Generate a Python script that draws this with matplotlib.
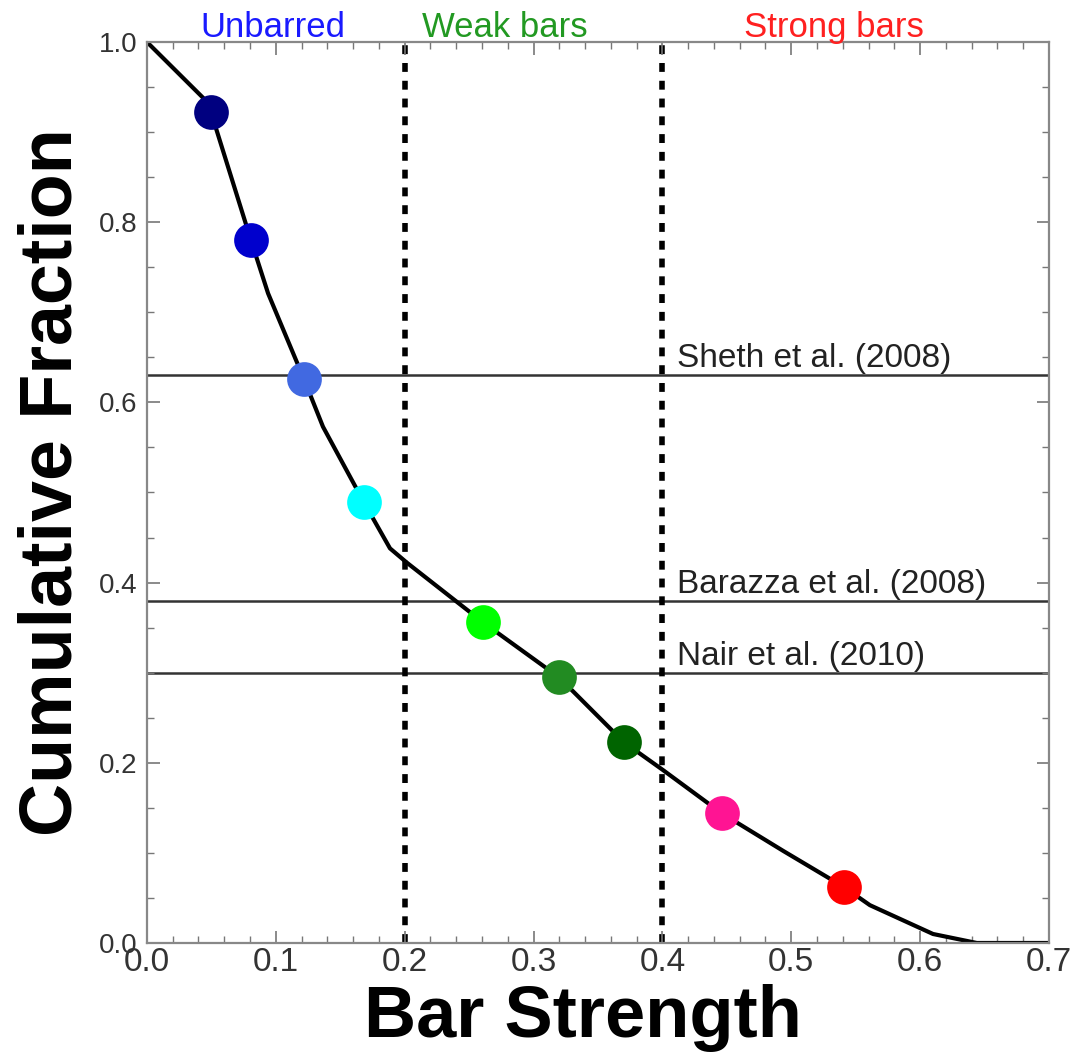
import numpy as np
import matplotlib
matplotlib.use("Agg")
import matplotlib.pyplot as plt

# cumulative fraction curve (vertices)
curve_x = [0.0, 0.045, 0.0497, 0.0807, 0.094, 0.1218, 0.1366, 0.1684, 0.1886, 0.2018,
           0.2607, 0.3197, 0.370, 0.4004, 0.446, 0.494, 0.541, 0.561, 0.610, 0.644, 0.70]
curve_y = [1.0, 0.936, 0.922, 0.780, 0.721, 0.626, 0.573, 0.489, 0.438, 0.422,
           0.356, 0.295, 0.223, 0.192, 0.144, 0.102, 0.062, 0.042, 0.010, 0.0, 0.0]

# highlighted points
pt_x = [0.0497, 0.0807, 0.1218, 0.1684, 0.2607, 0.3197, 0.370, 0.446, 0.541]
pt_y = [0.922, 0.780, 0.626, 0.489, 0.356, 0.295, 0.223, 0.144, 0.062]
pt_colors = ['#000080', '#0000cd', '#4169e1', '#00ffff', '#00ff00',
             '#228b22', '#006400', '#ff1493', '#ff0000']

# literature bar fractions
ref_names = ['Sheth et al. (2008)', 'Barazza et al. (2008)', 'Nair et al. (2010)']
ref_vals = [0.63, 0.38, 0.30]

# class boundaries and names
bounds = [0.2, 0.4]
class_names = ['Unbarred', 'Weak bars', 'Strong bars']
class_x = [0.098, 0.278, 0.533]
class_colors = ['#1a1aff', '#229922', '#ff2020']

xticks = [0.0, 0.1, 0.2, 0.3, 0.4, 0.5, 0.6, 0.7]
yticks = [0.0, 0.2, 0.4, 0.6, 0.8, 1.0]

sans = ['Liberation Sans', 'DejaVu Sans']

fig = plt.figure(figsize=(10.75, 10.58), dpi=100)
ax = fig.add_axes([0.1367, 0.1087, 0.8391, 0.8516])

for v in ref_vals:
    ax.axhline(v, color='#333333', lw=1.8, zorder=1)
for b in bounds:
    ax.axvline(b, color='black', lw=4, linestyle=(0, (1.6, 1.6)), zorder=1)

ax.plot(curve_x, curve_y, color='black', lw=3, zorder=2)
for x, y, c in zip(pt_x, pt_y, pt_colors):
    ax.plot(x, y, 'o', color=c, markersize=25, markeredgewidth=0, zorder=3)

for name, v in zip(ref_names, ref_vals):
    ax.text(0.411, v + 0.009, name, fontsize=24, color='#222222',
            family=sans, ha='left', va='baseline')

for name, x, c in zip(class_names, class_x, class_colors):
    ax.text(x, 1.006, name, fontsize=25, color=c, family=sans,
            ha='center', va='baseline')

ax.set_xlim(0, 0.7)
ax.set_ylim(0, 1.0)
ax.set_xticks(xticks)
ax.set_xticks(np.arange(0, 0.701, 0.02), minor=True)
ax.set_yticks(yticks)
ax.set_yticks(np.arange(0, 1.001, 0.05), minor=True)
ax.set_xticklabels(['%.1f' % t for t in xticks], family=sans)
ax.set_yticklabels(['%.1f' % t for t in yticks], family=sans)
ax.tick_params(which='both', direction='in', top=True, right=True, color='#777777')
ax.tick_params(which='major', length=9, width=1.2)
ax.tick_params(which='minor', length=5, width=1.0)
ax.tick_params(axis='x', labelsize=24, labelcolor='#333333', pad=3)
ax.tick_params(axis='y', labelsize=20, labelcolor='#333333', pad=7)
for s in ax.spines.values():
    s.set_color('#888888')
    s.set_linewidth(1.6)

ax.set_xlabel('Bar Strength', fontsize=52, fontweight='bold', family=sans)
ax.set_ylabel('Cumulative Fraction', fontsize=53, fontweight='bold', family=sans)
ax.xaxis.set_label_coords(0.483, -0.045)
ax.yaxis.set_label_coords(-0.067, 0.512)

fig.savefig('out.png', dpi=100)
